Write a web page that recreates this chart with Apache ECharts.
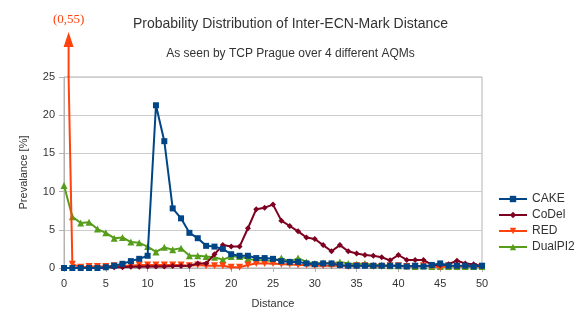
<!DOCTYPE html>
<html><head><meta charset="utf-8">
<script src="https://cdn.jsdelivr.net/npm/echarts@6/dist/echarts.min.js"></script>
<style>html,body{margin:0;padding:0;background:#fff}#c{width:581px;height:327px}</style>
</head><body><div id="c"></div>
<script>
const distance = [0,1,2,3,4,5,6,7,8,9,10,11,12,13,14,15,16,17,18,19,20,21,22,23,24,25,26,27,28,29,30,31,32,33,34,35,36,37,38,39,40,41,42,43,44,45,46,47,48,49,50];
const cake = [0,0,0,0,0,0.1,0.3,0.55,0.9,1.2,1.6,21.3,16.6,7.8,6.5,4.6,3.9,2.9,2.8,2.5,1.8,1.6,1.6,1.3,1.3,1.2,0.9,0.8,0.8,0.6,0.5,0.6,0.6,0.4,0.3,0.3,0.3,0.3,0.3,0.3,0.3,0.2,0.3,0.2,0.4,0.6,0.3,0.3,0.3,0.2,0.3];
const codel = [0,0,0,0,0,0.05,0.1,0.1,0.15,0.15,0.2,0.2,0.2,0.25,0.25,0.3,0.6,0.6,1.8,3.0,2.8,2.8,5.2,7.7,7.9,8.3,6.2,5.5,4.8,4.0,3.8,3.0,2.2,3.0,2.2,1.9,1.7,1.6,1.4,1.0,1.7,1.05,1.05,1.05,0.4,0.4,0.5,0.95,0.6,0.5,0.25];
const red = [55,0.5,0.1,0.2,0.2,0.2,0.3,0.3,0.3,0.4,0.4,0.4,0.4,0.4,0.4,0.3,0.4,0.3,0.3,0.3,0.1,0.1,0.4,0.6,0.6,0.6,0.5,0.5,0.4,0.4,0.3,0.3,0.3,0.3,0.2,0.3,0.3,0.2,0.2,0.3,0.3,0.2,0.2,0.3,0.2,0.1,0.3,0.2,0.2,0.2,0.2];
const dualpi2 = [10.8,6.7,5.9,6.0,5.1,4.6,3.9,4.0,3.4,3.3,2.8,2.1,2.7,2.4,2.6,1.6,1.6,1.5,1.4,1.1,1.5,1.5,1.2,1.0,1.0,0.9,1.3,0.8,1.3,0.8,0.6,0.7,0.6,0.8,0.6,0.5,0.6,0.4,0.4,0.3,0.3,0.3,0.2,0.3,0.2,0.2,0.2,0.2,0.2,0.2,0.2];
const seriesNames = ['CAKE','CoDel','RED','DualPI2'];
const yMax = 25;

const chart = echarts.init(document.getElementById('c'), null, {renderer:'canvas'});
function pairs(vals){ return vals.map((v,i)=>[distance[i], v]); }
const FONT = 'Liberation Sans';
const option = {
  animation:false,
  backgroundColor:'#fff',
  textStyle:{fontFamily:FONT},
  title:[
    {text:'Probability Distribution of Inter-ECN-Mark Distance', left:'center', top:12,
     textStyle:{fontFamily:FONT, fontSize:14, fontWeight:'normal', color:'#333'}},
    {text:'As seen by TCP Prague over 4 different AQMs', left:'center', top:43,
     textStyle:{fontFamily:FONT, fontSize:12, fontWeight:'normal', color:'#333'}}
  ],
  legend:{
    orient:'vertical', left:493, top:188, itemGap:4, itemWidth:28, itemHeight:8,
    data:seriesNames,
    textStyle:{fontFamily:FONT, fontSize:12, color:'#333'}
  },
  grid:{left:64, right:99, top:77, bottom:59, show:true, borderColor:'#b3b3b3', borderWidth:1, containLabel:false},
  xAxis:{
    type:'value', min:0, max:50, interval:5,
    name:'Distance', nameLocation:'middle', nameGap:30,
    nameTextStyle:{fontFamily:FONT, fontSize:11, color:'#333'},
    axisLine:{show:true, lineStyle:{color:'#b3b3b3'}},
    axisTick:{show:true, length:4, lineStyle:{color:'#b3b3b3'}},
    axisLabel:{fontFamily:FONT, fontSize:11, color:'#333', margin:10},
    splitLine:{show:false}
  },
  yAxis:{
    type:'value', min:0, max:yMax, interval:5,
    name:'Prevalance [%]', nameLocation:'middle', nameGap:35, nameRotate:90,
    nameTextStyle:{fontFamily:FONT, fontSize:11, color:'#333'},
    axisLine:{show:true, lineStyle:{color:'#b3b3b3'}},
    axisTick:{show:true, length:5, lineStyle:{color:'#b3b3b3'}},
    axisLabel:{fontFamily:FONT, fontSize:11, color:'#333', margin:9},
    splitLine:{show:true, lineStyle:{color:'#cccccc', width:1}}
  },
  series:[
    {name:'CAKE', type:'line', data:pairs(cake), symbol:'rect', symbolSize:6, z:5,
     itemStyle:{color:'#004586'}, lineStyle:{color:'#004586', width:2}},
    {name:'CoDel', type:'line', data:pairs(codel), symbol:'diamond', symbolSize:6, z:4,
     itemStyle:{color:'#7e0021'}, lineStyle:{color:'#7e0021', width:2}},
    {name:'RED', type:'line', data:pairs(red), symbol:'triangle', symbolRotate:180, symbolSize:7, z:3, clip:true,
     itemStyle:{color:'#ff420e'}, lineStyle:{color:'#ff420e', width:2}},
    {name:'DualPI2', type:'line', data:pairs(dualpi2), symbol:'triangle', symbolSize:7, z:2,
     itemStyle:{color:'#579d1c'}, lineStyle:{color:'#579d1c', width:2}}
  ]
};
chart.setOption(option);

// Off-scale annotation for RED at distance 0
const t = (red[0] - yMax) / (red[0] - red[1]);
const xCross = distance[0] + t * (distance[1] - distance[0]);
const p = chart.convertToPixel({gridIndex:0}, [xCross, yMax]);
chart.setOption({graphic:[
  {type:'line', shape:{x1:p[0], y1:p[1], x2:p[0], y2:44}, style:{stroke:'#ff420e', lineWidth:2}},
  {type:'polygon', shape:{points:[[p[0]-5,47],[p[0]+5,47],[p[0],32]]}, style:{fill:'#ff420e'}},
  {type:'text', x:p[0], y:20, style:{text:'(0,55)', fill:'#ff420e', font:'13px "Liberation Serif"', align:'center', verticalAlign:'middle'}}
]});
</script>
</body></html>
